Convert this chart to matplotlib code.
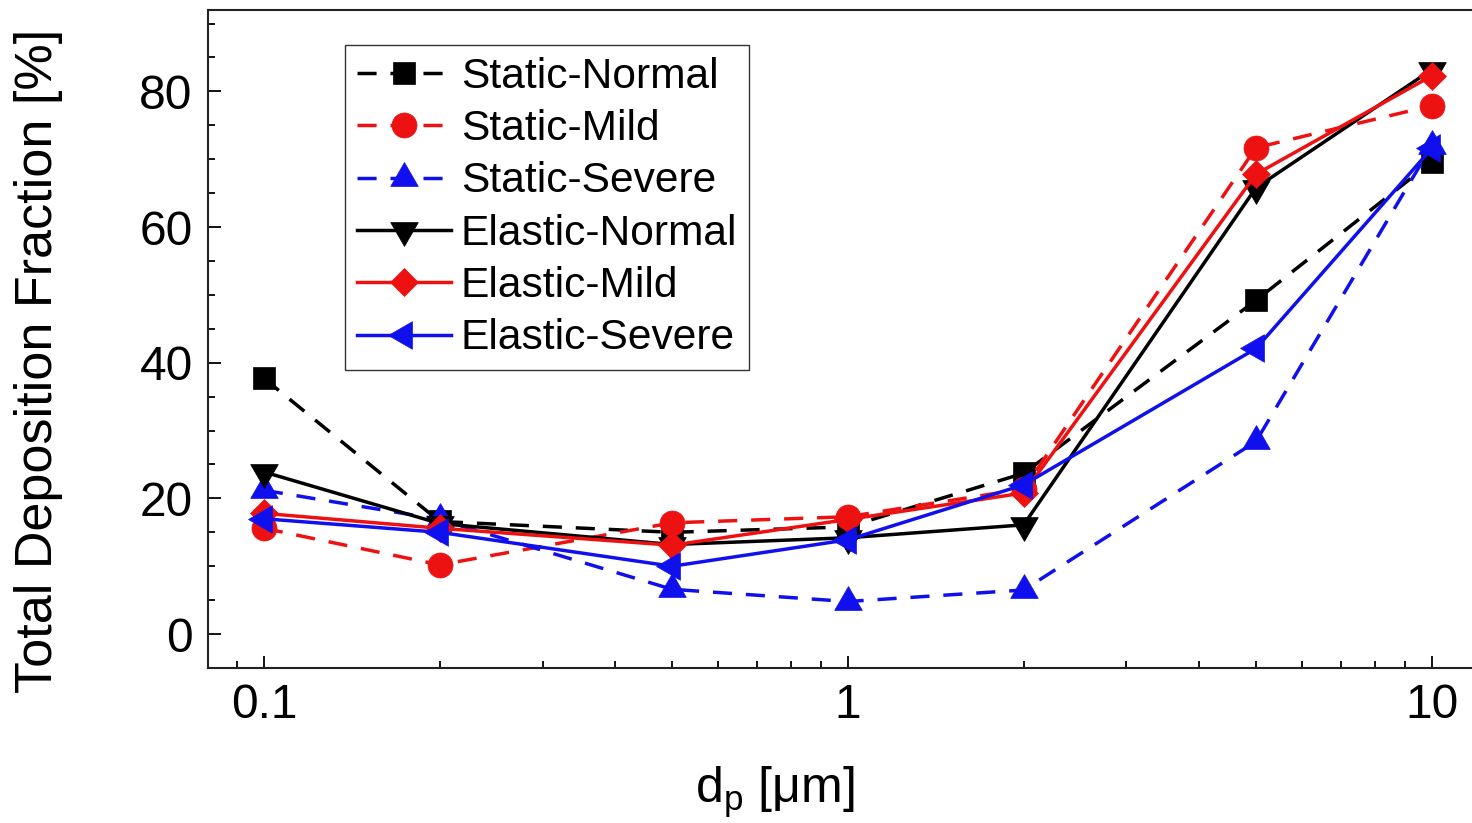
import matplotlib
matplotlib.use("Agg")
import matplotlib.pyplot as plt
from matplotlib.ticker import FixedLocator, NullFormatter, MultipleLocator

plt.rcParams['font.family'] = ['Liberation Sans', 'DejaVu Sans']
plt.rcParams['mathtext.fontset'] = 'custom'
plt.rcParams['mathtext.rm'] = 'Liberation Sans'

# particle diameters [um]
dp = [0.1, 0.2, 0.5, 1, 2, 5, 10]

# total deposition fraction [%]
static_normal = [37.7, 16.6, 15.0, 15.8, 23.7, 49.2, 69.6]
static_mild = [15.6, 10.2, 16.4, 17.3, 21.4, 71.7, 77.9]
static_severe = [21.2, 16.9, 6.6, 4.8, 6.5, 28.4, 72.0]
elastic_normal = [23.9, 16.3, 13.2, 14.2, 16.1, 65.8, 83.2]
elastic_mild = [17.8, 15.6, 13.1, 16.9, 20.8, 67.8, 82.3]
elastic_severe = [17.0, 15.0, 10.0, 13.9, 22.0, 42.1, 71.6]

labels = ['Static-Normal', 'Static-Mild', 'Static-Severe',
          'Elastic-Normal', 'Elastic-Mild', 'Elastic-Severe']

fig = plt.figure(figsize=(14.72, 8.23), dpi=100)
ax = fig.add_axes([208 / 1472, 1 - 668 / 823, 1270 / 1472, 658 / 823])

dash = (0, (5.5, 4.0))
lw = 2.5
styles = [
    dict(color='black', ls=dash, marker='s', ms=15.5),
    dict(color='#ee1111', ls=dash, marker='o', ms=18),
    dict(color='#1010ee', ls=dash, marker=(3, 0, 0), ms=23),
    dict(color='black', ls='-', marker=(3, 0, 180), ms=23),
    dict(color='#ee1111', ls='-', marker='D', ms=14.5),
    dict(color='#1010ee', ls='-', marker=(3, 0, 90), ms=23),
]
series = [static_normal, static_mild, static_severe,
          elastic_normal, elastic_mild, elastic_severe]

for vals, lab, st in zip(series, labels, styles):
    ax.plot(dp, vals, label=lab, lw=lw, color=st['color'], linestyle=st['ls'],
            marker=st['marker'], markersize=st['ms'],
            markerfacecolor=st['color'], markeredgecolor=st['color'],
            markeredgewidth=0.5)

ax.set_xscale('log')
ax.set_xlim(0.0802, 12.0)
ax.set_ylim(-5, 92)

ax.xaxis.set_major_locator(FixedLocator([0.1, 1, 10]))
ax.set_xticklabels(['0.1', '1', '10'])
minors = [0.09] + [k * 0.1 for k in range(2, 10)] + list(range(2, 10))
ax.xaxis.set_minor_locator(FixedLocator(minors))
ax.xaxis.set_minor_formatter(NullFormatter())
ax.yaxis.set_major_locator(MultipleLocator(20))
ax.yaxis.set_minor_locator(MultipleLocator(5))

ax.tick_params(which='both', direction='in', top=False, right=False,
               labelsize=34.5, width=1.3, colors='black')
ax.tick_params(which='major', length=9)
ax.tick_params(which='minor', length=5)
ax.tick_params(axis='x', pad=11)
ax.tick_params(axis='y', pad=11)
for sp in ax.spines.values():
    sp.set_linewidth(1.5)
    sp.set_color('#222222')

ax.set_xlabel(r'd$_\mathregular{p}$ [μm]', fontsize=36)
ax.set_ylabel('Total Deposition Fraction [%]', fontsize=37.5)
ax.xaxis.set_label_coords(0.446, -0.148)
ax.yaxis.set_label_coords(-0.114, 0.466)

leg = ax.legend(loc='upper left', bbox_to_anchor=(0.108, 0.947),
                borderaxespad=0, fontsize=30.6, frameon=True, fancybox=False,
                labelspacing=0.29, handlelength=2.2, handletextpad=0.24,
                borderpad=0.28, framealpha=1)
leg.get_frame().set_edgecolor('#333333')
leg.get_frame().set_linewidth(1.0)

fig.savefig('out.png', dpi=100)
